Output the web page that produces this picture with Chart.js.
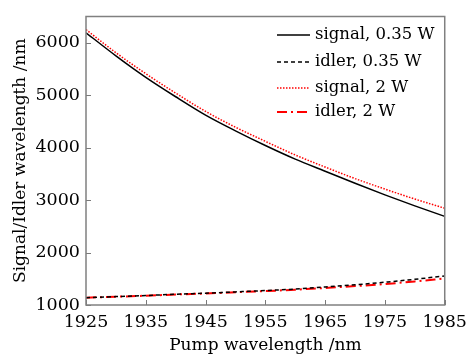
<!DOCTYPE html>
<html><head><meta charset="utf-8">
<script src="https://cdn.jsdelivr.net/npm/chart.js@4.4.1/dist/chart.umd.min.js"></script>
<style>html,body{margin:0;padding:0;background:#fff}#wrap{width:474px;height:354px}</style>
</head><body><div id="wrap"><canvas id="c" width="474" height="354"></canvas></div>
<script>
const pumpWavelengths = [1925,1930,1935,1940,1945,1950,1955,1960,1965,1970,1975,1980,1985];
const signal035 = [6190,5750,5340,4970,4620,4320,4040,3780,3550,3320,3100,2890,2690];
const idler035  = [1140,1160,1180,1205,1225,1250,1275,1305,1345,1385,1435,1490,1555];
const signal2   = [6250,5810,5410,5040,4690,4390,4120,3860,3630,3410,3210,3020,2845];
const idler2    = [1140,1158,1177,1200,1220,1243,1265,1292,1325,1360,1400,1450,1505];
const seriesLabels = ['signal, 0.35 W','idler, 0.35 W','signal, 2 W','idler, 2 W'];
const xTicks = [1925,1935,1945,1955,1965,1975,1985];
const yTicks = [1000,2000,3000,4000,5000,6000];

const FONT = "'DejaVu Serif', serif";
const pts = arr => arr.map((v,i)=>({x:pumpWavelengths[i], y:v}));

const frameAndLegend = {
  id:'frameAndLegend',
  afterDatasetsDraw(chart){
    const {ctx, chartArea:a, scales} = chart;
    ctx.save();
    ctx.strokeStyle = '#7a7a7a'; ctx.lineWidth = 1;
    xTicks.forEach(v=>{ const px = Math.round(scales.x.getPixelForValue(v))+0.5;
      ctx.beginPath(); ctx.moveTo(px,a.bottom); ctx.lineTo(px,a.bottom-5); ctx.stroke(); });
    yTicks.forEach(v=>{ const py = Math.round(scales.y.getPixelForValue(v))+0.5;
      ctx.beginPath(); ctx.moveTo(a.left,py); ctx.lineTo(a.left+5,py); ctx.stroke(); });
    ctx.strokeStyle = '#808080'; ctx.lineWidth = 1.5;
    ctx.strokeRect(a.left, a.top, a.right-a.left, a.bottom-a.top);
    const x0 = 277, x1 = 310, tx = 315, rows = [35,62,88,112];
    chart.data.datasets.forEach((ds,i)=>{
      const y = rows[i];
      ctx.strokeStyle = ds.borderColor; ctx.lineWidth = ds.borderWidth;
      ctx.setLineDash(ds.borderDash || []);
      ctx.beginPath(); ctx.moveTo(x0,y); ctx.lineTo(x1,y); ctx.stroke();
      ctx.setLineDash([]);
      ctx.fillStyle = '#000'; ctx.font = "16.5px " + FONT; ctx.textBaseline='middle';
      ctx.fillText(ds.label, tx, y);
    });
    ctx.restore();
  }
};

new Chart(document.getElementById('c'), {
  type:'line',
  data:{ datasets:[
    {label:seriesLabels[0], data:pts(signal035), borderColor:'#000000', borderWidth:1.5, borderDash:[]},
    {label:seriesLabels[1], data:pts(idler035), borderColor:'#000000', borderWidth:1.5, borderDash:[4,3]},
    {label:seriesLabels[2], data:pts(signal2), borderColor:'#ff0000', borderWidth:1.5, borderDash:[1.5,1.5]},
    {label:seriesLabels[3], data:pts(idler2), borderColor:'#ff0000', borderWidth:2, borderDash:[10,4,2,4]}
  ]},
  options:{
    responsive:false, animation:false,
    layout:{padding:{left:0, right:23, top:12, bottom:0}},
    elements:{point:{radius:0}, line:{cubicInterpolationMode:'monotone', fill:false}},
    plugins:{legend:{display:false}, tooltip:{enabled:false}},
    scales:{
      x:{type:'linear', min:1925, max:1985,
        afterBuildTicks:s=>{ s.ticks = xTicks.map(v=>({value:v})); },
        afterFit:s=>{ s.height = 49; },
        grid:{display:false, drawTicks:false}, border:{display:false},
        ticks:{color:'#000', padding:7, maxRotation:0, autoSkip:false, callback:v=>String(v), font:{family:FONT, size:17.5}},
        title:{display:true, text:'Pump wavelength /nm', color:'#000', padding:{top:0,bottom:0}, font:{family:FONT, size:17, lineHeight:1}}
      },
      y:{type:'linear', min:1000, max:6500,
        afterBuildTicks:s=>{ s.ticks = yTicks.map(v=>({value:v})); },
        afterFit:s=>{ s.width = 86; },
        grid:{display:false, drawTicks:false}, border:{display:false},
        ticks:{color:'#000', padding:6, autoSkip:false, callback:v=>String(v), font:{family:FONT, size:17.5}},
        title:{display:true, text:'Signal/Idler wavelength /nm', color:'#000', padding:{top:12,bottom:0}, font:{family:FONT, size:17, lineHeight:1}}
      }
    }
  },
  plugins:[frameAndLegend]
});
</script></body></html>
